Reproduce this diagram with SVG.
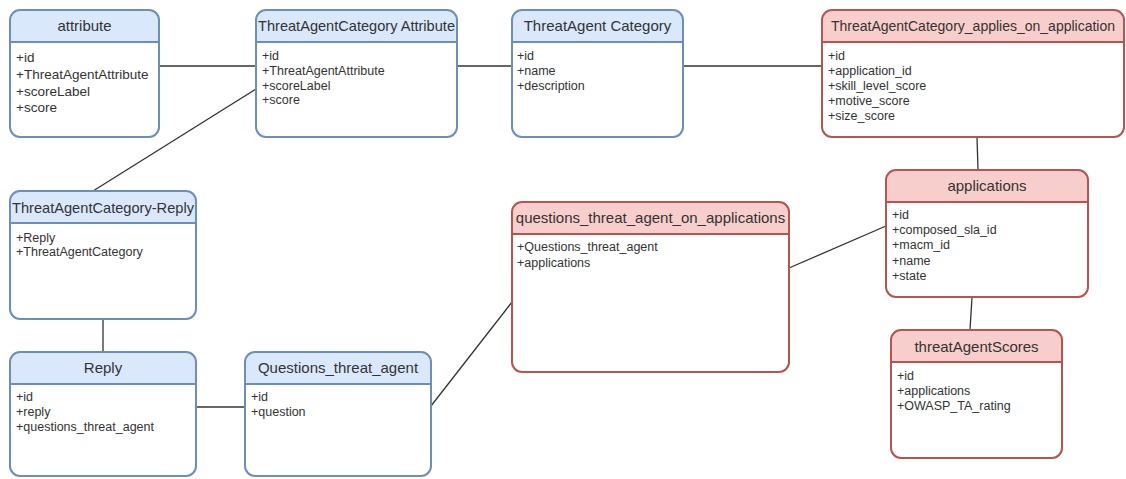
<svg xmlns="http://www.w3.org/2000/svg" width="1126" height="479" viewBox="0 0 1126 479">
<style>
.bh{fill:#dae8fc;stroke:none}
.rh{fill:#f8cecc;stroke:none}
.bo{fill:none;stroke:#6c8ebf;stroke-width:2}
.ro{fill:none;stroke:#b85450;stroke-width:2}
.body{fill:#ffffff;stroke:none}
.t{font-family:"Liberation Sans",Arial,sans-serif;font-size:15px;fill:#333333;text-anchor:middle}
.a{font-family:"Liberation Sans",Arial,sans-serif;font-size:12.5px;fill:#333333}
.a2{font-family:"Liberation Sans",Arial,sans-serif;font-size:13.5px;fill:#333333}
.c{stroke:#333333;stroke-width:1.3;fill:none}
</style>
<rect width="1126" height="479" fill="#ffffff"/>
<g id="connectors">
<line class="c" x1="159" y1="66" x2="256" y2="66"/>
<line class="c" x1="457" y1="66" x2="512" y2="66"/>
<line class="c" x1="683" y1="66" x2="822" y2="66"/>
<line class="c" x1="256" y1="89" x2="93" y2="191"/>
<line class="c" x1="103" y1="319" x2="103" y2="352"/>
<line class="c" x1="196" y1="407" x2="245" y2="407"/>
<line class="c" x1="431" y1="406" x2="512" y2="302"/>
<line class="c" x1="789" y1="268" x2="886" y2="226"/>
<line class="c" x1="977" y1="137" x2="978" y2="170"/>
<line class="c" x1="972" y1="297" x2="970" y2="330"/>
</g>
<g id="attribute">
<rect class="body" x="10" y="10" width="149" height="127" rx="10"/>
<path class="bh" d="M10,42 V20 A10,10 0 0 1 20,10 H149 A10,10 0 0 1 159,20 V42 Z"/>
<rect class="bo" x="10" y="10" width="149" height="127" rx="10"/>
<line class="bo" x1="10" y1="42" x2="159" y2="42"/>
<text class="t" x="84.5" y="31">attribute</text>
<text class="a2" x="16" y="62">+id</text>
<text class="a2" x="16" y="79">+ThreatAgentAttribute</text>
<text class="a2" x="16" y="96">+scoreLabel</text>
<text class="a2" x="16" y="112">+score</text>
</g>
<g id="tacattribute">
<rect class="body" x="256" y="10" width="201" height="127" rx="10"/>
<path class="bh" d="M256,42 V20 A10,10 0 0 1 266,10 H447 A10,10 0 0 1 457,20 V42 Z"/>
<rect class="bo" x="256" y="10" width="201" height="127" rx="10"/>
<line class="bo" x1="256" y1="42" x2="457" y2="42"/>
<text class="t" x="356.5" y="31" textLength="197" lengthAdjust="spacingAndGlyphs">ThreatAgentCategory Attribute</text>
<text class="a" x="262" y="60">+id</text>
<text class="a" x="262" y="75">+ThreatAgentAttribute</text>
<text class="a" x="262" y="90">+scoreLabel</text>
<text class="a" x="262" y="104">+score</text>
</g>
<g id="tacategory">
<rect class="body" x="512" y="10" width="171" height="127" rx="10"/>
<path class="bh" d="M512,42 V20 A10,10 0 0 1 522,10 H673 A10,10 0 0 1 683,20 V42 Z"/>
<rect class="bo" x="512" y="10" width="171" height="127" rx="10"/>
<line class="bo" x1="512" y1="42" x2="683" y2="42"/>
<text class="t" x="597.5" y="31">ThreatAgent Category</text>
<text class="a" x="517" y="60">+id</text>
<text class="a" x="517" y="75">+name</text>
<text class="a" x="517" y="90">+description</text>
</g>
<g id="tacapplies">
<rect class="body" x="822" y="10" width="302" height="127" rx="10"/>
<path class="rh" d="M822,42 V20 A10,10 0 0 1 832,10 H1114 A10,10 0 0 1 1124,20 V42 Z"/>
<rect class="ro" x="822" y="10" width="302" height="127" rx="10"/>
<line class="ro" x1="822" y1="42" x2="1124" y2="42"/>
<text class="t" x="973" y="31" style="font-size:14px">ThreatAgentCategory_applies_on_application</text>
<text class="a" x="828" y="60">+id</text>
<text class="a" x="828" y="75">+application_id</text>
<text class="a" x="828" y="90">+skill_level_score</text>
<text class="a" x="828" y="105">+motive_score</text>
<text class="a" x="828" y="120">+size_score</text>
</g>
<g id="tacreply">
<rect class="body" x="10" y="191" width="186" height="128" rx="10"/>
<path class="bh" d="M10,223 V201 A10,10 0 0 1 20,191 H186 A10,10 0 0 1 196,201 V223 Z"/>
<rect class="bo" x="10" y="191" width="186" height="128" rx="10"/>
<line class="bo" x1="10" y1="223" x2="196" y2="223"/>
<text class="t" x="103" y="213" textLength="182" lengthAdjust="spacingAndGlyphs">ThreatAgentCategory-Reply</text>
<text class="a" x="16" y="242">+Reply</text>
<text class="a" x="16" y="256">+ThreatAgentCategory</text>
</g>
<g id="reply">
<rect class="body" x="10" y="352" width="186" height="124" rx="10"/>
<path class="bh" d="M10,384 V362 A10,10 0 0 1 20,352 H186 A10,10 0 0 1 196,362 V384 Z"/>
<rect class="bo" x="10" y="352" width="186" height="124" rx="10"/>
<line class="bo" x1="10" y1="384" x2="196" y2="384"/>
<text class="t" x="103" y="373">Reply</text>
<text class="a" x="16" y="401">+id</text>
<text class="a" x="16" y="416">+reply</text>
<text class="a" x="16" y="431">+questions_threat_agent</text>
</g>
<g id="questions">
<rect class="body" x="245" y="352" width="186" height="124" rx="10"/>
<path class="bh" d="M245,384 V362 A10,10 0 0 1 255,352 H421 A10,10 0 0 1 431,362 V384 Z"/>
<rect class="bo" x="245" y="352" width="186" height="124" rx="10"/>
<line class="bo" x1="245" y1="384" x2="431" y2="384"/>
<text class="t" x="338" y="373">Questions_threat_agent</text>
<text class="a" x="251" y="401">+id</text>
<text class="a" x="251" y="416">+question</text>
</g>
<g id="qtaoa">
<rect class="body" x="512" y="202" width="277" height="170" rx="10"/>
<path class="rh" d="M512,234 V212 A10,10 0 0 1 522,202 H779 A10,10 0 0 1 789,212 V234 Z"/>
<rect class="ro" x="512" y="202" width="277" height="170" rx="10"/>
<line class="ro" x1="512" y1="234" x2="789" y2="234"/>
<text class="t" x="650.5" y="223">questions_threat_agent_on_applications</text>
<text class="a" x="517" y="251">+Questions_threat_agent</text>
<text class="a" x="517" y="267">+applications</text>
</g>
<g id="applications">
<rect class="body" x="886" y="170" width="202" height="127" rx="10"/>
<path class="rh" d="M886,202 V180 A10,10 0 0 1 896,170 H1078 A10,10 0 0 1 1088,180 V202 Z"/>
<rect class="ro" x="886" y="170" width="202" height="127" rx="10"/>
<line class="ro" x1="886" y1="202" x2="1088" y2="202"/>
<text class="t" x="987" y="191">applications</text>
<text class="a" x="892" y="219">+id</text>
<text class="a" x="892" y="234">+composed_sla_id</text>
<text class="a" x="892" y="249">+macm_id</text>
<text class="a" x="892" y="265">+name</text>
<text class="a" x="892" y="280">+state</text>
</g>
<g id="threatagentscores">
<rect class="body" x="891" y="330" width="171" height="128" rx="10"/>
<path class="rh" d="M891,362 V340 A10,10 0 0 1 901,330 H1052 A10,10 0 0 1 1062,340 V362 Z"/>
<rect class="ro" x="891" y="330" width="171" height="128" rx="10"/>
<line class="ro" x1="891" y1="362" x2="1062" y2="362"/>
<text class="t" x="976.5" y="352">threatAgentScores</text>
<text class="a" x="897" y="380">+id</text>
<text class="a" x="897" y="395">+applications</text>
<text class="a" x="897" y="410">+OWASP_TA_rating</text>
</g>
</svg>
